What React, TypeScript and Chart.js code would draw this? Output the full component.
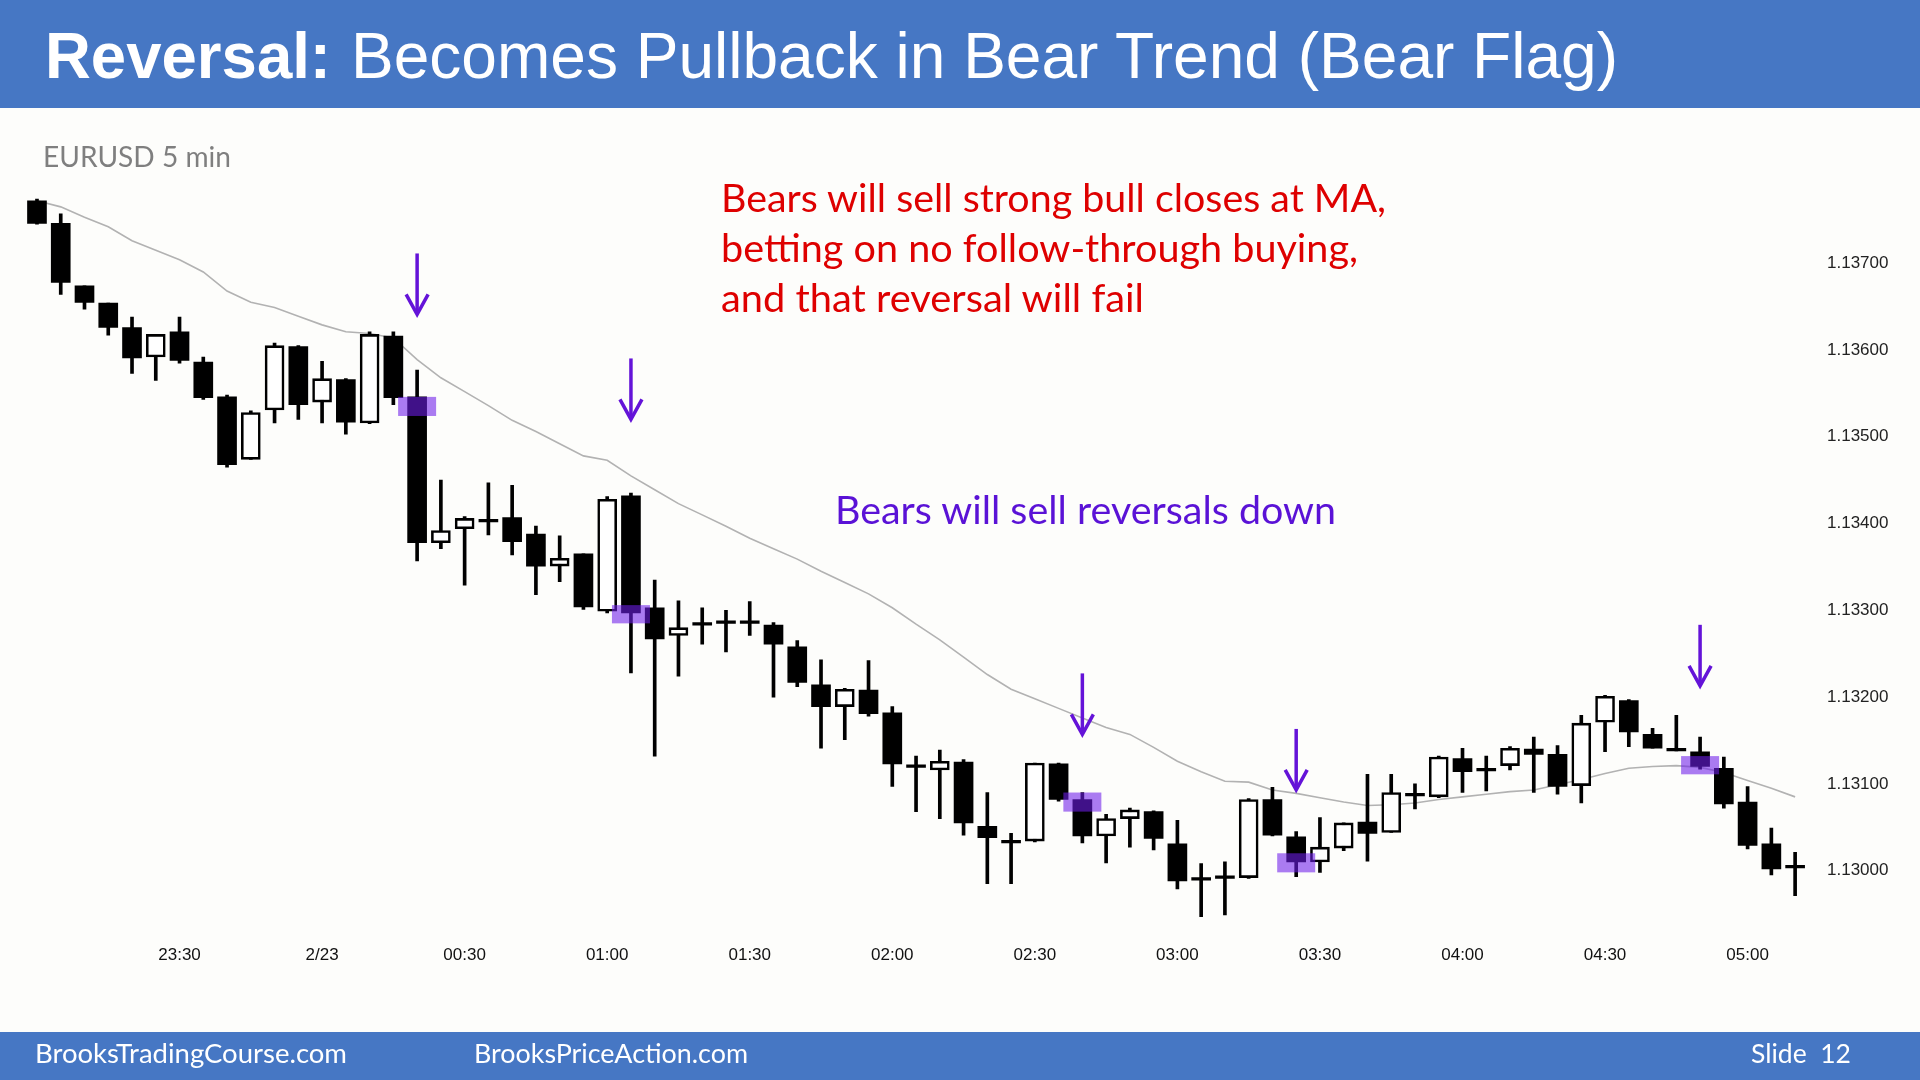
import React, { useEffect, useRef } from "react";
import { Chart, registerables } from "chart.js";

Chart.register(...registerables);

// ---------- DATA ----------
const categories = [
  "23:00","23:05","23:10","23:15","23:20","23:25","23:30","23:35","23:40","23:45","23:50","23:55",
  "00:00","00:05","00:10","00:15","00:20","00:25","00:30","00:35","00:40","00:45","00:50","00:55",
  "01:00","01:05","01:10","01:15","01:20","01:25","01:30","01:35","01:40","01:45","01:50","01:55",
  "02:00","02:05","02:10","02:15","02:20","02:25","02:30","02:35","02:40","02:45","02:50","02:55",
  "03:00","03:05","03:10","03:15","03:20","03:25","03:30","03:35","03:40","03:45","03:50","03:55",
  "04:00","04:05","04:10","04:15","04:20","04:25","04:30","04:35","04:40","04:45","04:50","04:55",
  "05:00","05:05","05:10",
];

const opens = [
  1.13772, 1.13746, 1.13674, 1.13654, 1.13626, 1.13592, 1.13621, 1.13586, 1.13546, 1.13474,
  1.13531, 1.13604, 1.13540, 1.13566, 1.13516, 1.13616, 1.13546, 1.13378, 1.13394, 1.13405,
  1.13407, 1.13388, 1.13351, 1.13365, 1.13299, 1.13432, 1.13303, 1.13271, 1.13286, 1.13288,
  1.13288, 1.13283, 1.13258, 1.13214, 1.13189, 1.13208, 1.13182, 1.13122, 1.13116, 1.13125,
  1.13051, 1.13035, 1.13034, 1.13123, 1.13082, 1.13040, 1.13060, 1.13068, 1.13031, 1.12992,
  1.12994, 1.12992, 1.13082, 1.13039, 1.13010, 1.13026, 1.13056, 1.13044, 1.13089, 1.13085,
  1.13129, 1.13118, 1.13121, 1.13140, 1.13134, 1.13098, 1.13171, 1.13196, 1.13157, 1.13141,
  1.13137, 1.13118, 1.13079, 1.13031, 1.13006,
];

const highs = [
  1.13774, 1.13757, 1.13674, 1.13654, 1.13638, 1.13618, 1.13638, 1.13592, 1.13548, 1.13530,
  1.13608, 1.13605, 1.13587, 1.13567, 1.13621, 1.13621, 1.13577, 1.13450, 1.13408, 1.13447,
  1.13444, 1.13397, 1.13386, 1.13365, 1.13431, 1.13435, 1.13335, 1.13311, 1.13303, 1.13300,
  1.13310, 1.13286, 1.13265, 1.13243, 1.13210, 1.13242, 1.13189, 1.13132, 1.13139, 1.13128,
  1.13090, 1.13043, 1.13124, 1.13124, 1.13090, 1.13065, 1.13072, 1.13069, 1.13058, 1.13008,
  1.13010, 1.13083, 1.13096, 1.13045, 1.13061, 1.13055, 1.13111, 1.13111, 1.13100, 1.13132,
  1.13141, 1.13132, 1.13143, 1.13154, 1.13144, 1.13179, 1.13202, 1.13197, 1.13164, 1.13179,
  1.13154, 1.13131, 1.13097, 1.13049, 1.13021,
];

const lows = [
  1.13745, 1.13664, 1.13647, 1.13617, 1.13573, 1.13565, 1.13585, 1.13543, 1.13465, 1.13474,
  1.13516, 1.13520, 1.13516, 1.13503, 1.13515, 1.13537, 1.13357, 1.13371, 1.13329, 1.13387,
  1.13364, 1.13318, 1.13333, 1.13301, 1.13297, 1.13228, 1.13132, 1.13224, 1.13261, 1.13252,
  1.13271, 1.13200, 1.13212, 1.13141, 1.13151, 1.13178, 1.13097, 1.13068, 1.13060, 1.13041,
  1.12985, 1.12985, 1.13033, 1.13080, 1.13032, 1.13009, 1.13027, 1.13024, 1.12979, 1.12947,
  1.12949, 1.12991, 1.13040, 1.12993, 1.12998, 1.13023, 1.13011, 1.13044, 1.13071, 1.13084,
  1.13090, 1.13092, 1.13116, 1.13090, 1.13088, 1.13078, 1.13137, 1.13143, 1.13141, 1.13138,
  1.13117, 1.13072, 1.13025, 1.12995, 1.12971,
];

const closes = [
  1.13746, 1.13678, 1.13655, 1.13626, 1.13591, 1.13618, 1.13588, 1.13545, 1.13468, 1.13528,
  1.13605, 1.13537, 1.13567, 1.13517, 1.13618, 1.13545, 1.13378, 1.13392, 1.13406, 1.13402,
  1.13379, 1.13351, 1.13360, 1.13304, 1.13428, 1.13297, 1.13267, 1.13280, 1.13283, 1.13285,
  1.13285, 1.13261, 1.13217, 1.13189, 1.13209, 1.13181, 1.13123, 1.13119, 1.13126, 1.13055,
  1.13038, 1.13032, 1.13124, 1.13082, 1.13040, 1.13060, 1.13070, 1.13037, 1.12988, 1.12989,
  1.12991, 1.13082, 1.13041, 1.13010, 1.13027, 1.13055, 1.13043, 1.13090, 1.13086, 1.13131,
  1.13114, 1.13115, 1.13141, 1.13134, 1.13097, 1.13170, 1.13201, 1.13160, 1.13141, 1.13138,
  1.13120, 1.13077, 1.13029, 1.13002, 1.13003,
];

const movingAverage = [
  1.13772, 1.13765, 1.13753, 1.13742, 1.13726, 1.13715, 1.13704, 1.13690, 1.13668, 1.13655,
  1.13649, 1.13639, 1.13629, 1.13621, 1.13619, 1.13614, 1.13589, 1.13568, 1.13552, 1.13536,
  1.13519, 1.13506, 1.13492, 1.13478, 1.13473, 1.13455, 1.13439, 1.13423, 1.13410, 1.13397,
  1.13383, 1.13371, 1.13359, 1.13345, 1.13332, 1.13319, 1.13303, 1.13284, 1.13266, 1.13246,
  1.13226, 1.13209, 1.13198, 1.13187, 1.13176, 1.13165, 1.13157, 1.13142, 1.13126, 1.13114,
  1.13103, 1.13102, 1.13093, 1.13089, 1.13084, 1.13079, 1.13075, 1.13076, 1.13078, 1.13082,
  1.13085, 1.13088, 1.13091, 1.13093, 1.13099, 1.13105, 1.13112, 1.13118, 1.13120, 1.13121,
  1.13119, 1.13113, 1.13104, 1.13095, 1.13085,
];

const xTickTimes = ["23:30","00:00","00:30","01:00","01:30","02:00","02:30","03:00","03:30","04:00","04:30","05:00"];
const xTickTexts = ["23:30","2/23","00:30","01:00","01:30","02:00","02:30","03:00","03:30","04:00","04:30","05:00"];
const yTickValues = [1.13, 1.131, 1.132, 1.133, 1.134, 1.135, 1.136, 1.137];

const highlightBars = [16, 25, 44, 53, 70];
const highlightTops = [1.13546, 1.13306, 1.13090, 1.13020, 1.13132];
const highlightBottoms = [1.13524, 1.13285, 1.13068, 1.12998, 1.13111];

const arrowBars = [16, 25, 44, 53, 70];
const arrowTips = [1.13641, 1.13520, 1.13157, 1.13093, 1.13213];

const titleBold = "Reversal:";
const titleRest = "Becomes Pullback in Bear Trend (Bear Flag)";
const instrumentLabel = "EURUSD 5 min";
const redLines = [
  "Bears will sell strong bull closes at MA,",
  "betting on no follow-through buying,",
  "and that reversal will fail",
];
const purpleText = "Bears will sell reversals down";
const footerLeft = "BrooksTradingCourse.com";
const footerMid = "BrooksPriceAction.com";
const footerRight = "Slide  12";

// ---------- COMPONENT ----------
export default function App() {
  const canvasRef = useRef<HTMLCanvasElement | null>(null);

  useEffect(() => {
    const canvas = canvasRef.current;
    if (!canvas) return;

    const bgPlugin = {
      id: "bgPlugin",
      beforeDraw(chart: any) {
        const c = chart.ctx;
        c.save();
        c.fillStyle = "#FDFDFB";
        c.fillRect(0, 0, chart.width, chart.height);
        c.restore();
      },
    };

    const marksPlugin = {
      id: "marksPlugin",
      afterDatasetsDraw(chart: any) {
        const c = chart.ctx;
        const xs = chart.scales.x;
        const ys = chart.scales.y;
        c.save();
        // highlight boxes
        c.fillStyle = "rgba(110, 30, 235, 0.58)";
        highlightBars.forEach((b, i) => {
          const cx = xs.getPixelForValue(b);
          const t = ys.getPixelForValue(highlightTops[i]);
          const bt = ys.getPixelForValue(highlightBottoms[i]);
          c.fillRect(cx - 19, t, 38, bt - t);
        });
        // arrows
        c.strokeStyle = "#6413D8";
        c.lineWidth = 3.5;
        c.lineCap = "butt";
        c.lineJoin = "miter";
        arrowBars.forEach((b, i) => {
          const cx = xs.getPixelForValue(b);
          const tip = ys.getPixelForValue(arrowTips[i]);
          c.beginPath();
          c.moveTo(cx, tip - 61);
          c.lineTo(cx, tip - 1);
          c.stroke();
          c.beginPath();
          c.moveTo(cx - 11, tip - 20);
          c.lineTo(cx, tip);
          c.lineTo(cx + 11, tip - 20);
          c.stroke();
        });
        c.restore();
      },
    };

    const bodyColors = opens.map((o, i) => (closes[i] > o ? "#ffffff" : "#000000"));
    const bodyBorders = opens.map((o, i) => (closes[i] > o ? 2.6 : 0));

    const chart = new Chart(canvas, {
      type: "bar",
      data: {
        labels: categories,
        datasets: [
          {
            type: "line",
            label: "MA",
            data: movingAverage,
            borderColor: "#B2B2B2",
            borderWidth: 1.6,
            pointRadius: 0,
            tension: 0,
            order: 3,
          } as any,
          {
            type: "bar",
            label: "wicks",
            data: lows.map((l, i) => [l, highs[i]]),
            backgroundColor: "#000000",
            borderWidth: 0,
            barThickness: 3,
            grouped: false,
            order: 2,
          } as any,
          {
            type: "bar",
            label: "bodies",
            data: opens.map((o, i) => [o, closes[i]]),
            backgroundColor: bodyColors,
            borderColor: "#000000",
            borderWidth: bodyBorders,
            borderSkipped: false,
            barThickness: 19,
            grouped: false,
            order: 1,
          } as any,
        ],
      },
      options: {
        responsive: false,
        maintainAspectRatio: false,
        devicePixelRatio: 1,
        animation: false,
        events: [],
        layout: { padding: { left: 25.1, right: 0, top: 176.5, bottom: 94.3 } },
        plugins: {
          legend: { display: false },
          tooltip: { enabled: false },
        },
        scales: {
          x: {
            type: "category",
            offset: true,
            grid: { display: false, drawTicks: false },
            border: { display: false },
            afterFit: (scale: any) => {
              scale.height = 50;
            },
            ticks: {
              autoSkip: false,
              maxRotation: 0,
              minRotation: 0,
              padding: 9,
              color: "#111111",
              font: { family: "'Liberation Sans', Arial, sans-serif", size: 17 },
              callback: (_v: any, index: number) => {
                const k = xTickTimes.indexOf(categories[index]);
                return k >= 0 ? xTickTexts[k] : "";
              },
            },
          },
          y: {
            type: "linear",
            position: "right",
            min: 1.12925,
            max: 1.138,
            grid: { display: false, drawTicks: false },
            border: { display: false },
            afterFit: (scale: any) => {
              scale.width = 113;
            },
            afterBuildTicks: (scale: any) => {
              scale.ticks = yTickValues.map((v) => ({ value: v }));
            },
            ticks: {
              padding: 20,
              color: "#222222",
              font: { family: "'Liberation Sans', Arial, sans-serif", size: 17 },
              callback: (v: any) => Number(v).toFixed(5),
            },
          },
        },
      } as any,
      plugins: [bgPlugin, marksPlugin],
    });

    return () => {
      chart.destroy();
    };
  }, []);

  const calibriLike = "Lato, 'Open Sans', sans-serif";
  const arialLike = "'Liberation Sans', Arial, sans-serif";

  return (
    <div>
      <canvas
        ref={canvasRef}
        width={1920}
        height={1080}
        style={{ position: "fixed", left: 0, top: 0, width: 1920, height: 1080 }}
      />
      <svg
        width={1920}
        height={1080}
        style={{ position: "fixed", left: 0, top: 0, pointerEvents: "none" }}
      >
        <rect x={0} y={0} width={1920} height={108} fill="#4677C4" />
        <text x={45} y={78} fontFamily={arialLike} fontWeight="bold" fontSize={64} fill="#ffffff"
          textLength={286} lengthAdjust="spacingAndGlyphs">{titleBold}</text>
        <text x={351} y={78} fontFamily={arialLike} fontSize={64} fill="#ffffff"
          textLength={1267} lengthAdjust="spacingAndGlyphs">{titleRest}</text>

        <text x={43} y={167} fontFamily={calibriLike} fontSize={28.5} fill="#7F7F7F"
          textLength={188} lengthAdjust="spacingAndGlyphs">{instrumentLabel}</text>

        <text x={721} y={212} fontFamily={calibriLike} fontSize={38} fill="#DE0000"
          textLength={665} lengthAdjust="spacingAndGlyphs">{redLines[0]}</text>
        <text x={721} y={262} fontFamily={calibriLike} fontSize={38} fill="#DE0000"
          textLength={637} lengthAdjust="spacingAndGlyphs">{redLines[1]}</text>
        <text x={721} y={312} fontFamily={calibriLike} fontSize={38} fill="#DE0000"
          textLength={423} lengthAdjust="spacingAndGlyphs">{redLines[2]}</text>

        <text x={835} y={524} fontFamily={calibriLike} fontSize={38} fill="#5A12D6"
          textLength={501} lengthAdjust="spacingAndGlyphs">{purpleText}</text>

        <rect x={0} y={1032} width={1920} height={48} fill="#4677C4" />
        <text x={35} y={1063} fontFamily={calibriLike} fontSize={26.5} fill="#ffffff"
          textLength={312} lengthAdjust="spacingAndGlyphs">{footerLeft}</text>
        <text x={474} y={1063} fontFamily={calibriLike} fontSize={26.5} fill="#ffffff"
          textLength={274} lengthAdjust="spacingAndGlyphs">{footerMid}</text>
        <text x={1751} y={1063} fontFamily={calibriLike} fontSize={26.5} fill="#ffffff"
          style={{ whiteSpace: "pre" }} xmlSpace="preserve"
          textLength={100} lengthAdjust="spacingAndGlyphs">{footerRight}</text>
      </svg>
    </div>
  );
}
